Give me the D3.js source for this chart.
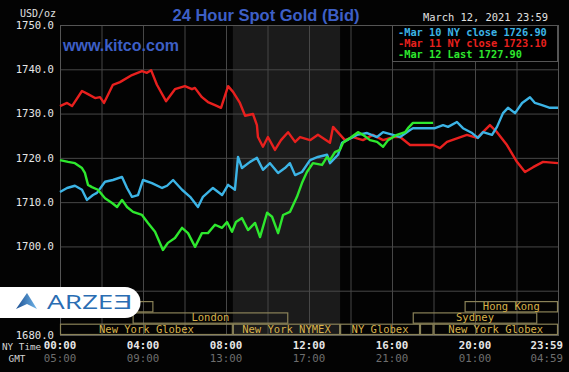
<!DOCTYPE html>
<html lang="en">
<head>
<meta charset="UTF-8">
<title>24 Hour Spot Gold (Bid)</title>
<script src="https://d3js.org/d3.v7.min.js"></script>
<style>
    body {
        margin: 0;
        background-color: #000;
    }
    svg {
        display: block;
    }
    .mono {
        font-family: 'DejaVu Sans Mono', monospace;
    }
    .grid line {
        stroke: #474747;
        stroke-width: 1;
    }
    .grid path {
        display: none;
    }
</style>
</head>
<body>
<svg id="chart" width="569" height="372"></svg>
<script>
    // hours since 00:00 NY time, prices in USD/oz
    var mar10Hours = [0, 0.34, 0.72, 1.06, 1.3, 1.59, 1.78, 2.17, 2.55, 2.99, 3.23, 3.47, 3.76, 4, 4.43, 4.92, 5.16, 5.45, 5.88, 6.27, 6.65, 6.89, 7.37, 7.81, 8.1, 8.43, 8.58, 8.77, 9.16, 9.49, 9.78, 10.12, 10.51, 10.84, 11.08, 11.33, 11.66, 12.05, 12.43, 12.87, 13.01, 13.4, 13.59, 13.83, 14.31, 14.8, 15.28, 15.57, 16.05, 16.39, 16.87, 17.01, 18.07, 18.46, 18.7, 19.13, 19.42, 19.86, 20.14, 20.39, 20.82, 21.06, 21.35, 21.59, 21.93, 22.27, 22.65, 22.89, 23.23, 23.61, 24];
    var mar10Prices = [1712.3, 1713.2, 1713.7, 1712.8, 1710.5, 1711.6, 1712.1, 1714.6, 1715.0, 1715.7, 1713.2, 1711.2, 1711.6, 1715.0, 1714.3, 1713.2, 1713.7, 1715.0, 1712.8, 1711.2, 1708.9, 1711.2, 1713.2, 1711.6, 1713.9, 1712.8, 1720.2, 1717.7, 1719.1, 1720.0, 1717.3, 1718.8, 1716.6, 1717.7, 1718.8, 1716.1, 1716.8, 1719.5, 1720.2, 1720.7, 1718.8, 1720.7, 1723.4, 1724.0, 1725.2, 1725.6, 1724.7, 1725.8, 1725.2, 1724.7, 1726.3, 1726.7, 1726.7, 1727.4, 1727.0, 1728.1, 1726.7, 1725.6, 1724.5, 1725.8, 1725.2, 1727.0, 1730.1, 1731.3, 1730.1, 1732.4, 1733.7, 1732.4, 1731.9, 1731.3, 1731.3];

    var mar11Hours = [0, 0.34, 0.58, 1.06, 1.35, 1.69, 1.93, 2.12, 2.55, 2.89, 3.47, 3.95, 4.19, 4.39, 4.67, 5.11, 5.54, 6.02, 6.36, 6.5, 6.84, 7.13, 7.47, 7.76, 8.1, 8.34, 8.67, 8.92, 9.3, 9.49, 9.54, 9.78, 10.02, 10.36, 10.65, 10.99, 11.33, 11.57, 12.05, 12.43, 13.01, 13.16, 13.73, 14.12, 14.6, 15.08, 15.57, 16.05, 16.39, 16.87, 17.98, 18.31, 18.65, 19.61, 20.1, 20.72, 21.06, 21.54, 22.02, 22.41, 22.8, 23.28, 24];
    var mar11Prices = [1731.7, 1732.4, 1731.7, 1735.1, 1734.4, 1733.5, 1733.7, 1732.4, 1736.5, 1737.1, 1738.7, 1739.6, 1739.2, 1739.8, 1736.5, 1732.8, 1735.5, 1736.2, 1735.5, 1735.8, 1733.7, 1732.6, 1731.9, 1731.3, 1736.2, 1734.9, 1732.4, 1729.5, 1729.9, 1727.4, 1724.7, 1722.5, 1724.7, 1721.8, 1724.0, 1725.8, 1723.6, 1724.7, 1724.0, 1725.2, 1723.4, 1727.0, 1724.0, 1724.7, 1724.0, 1725.2, 1724.0, 1724.7, 1724.7, 1722.9, 1722.9, 1722.2, 1723.6, 1725.2, 1724.5, 1727.4, 1725.8, 1722.9, 1719.1, 1716.8, 1717.9, 1719.1, 1718.8];

    var mar12Hours = [0, 0.39, 0.72, 1.06, 1.2, 1.35, 1.54, 1.83, 2.17, 2.51, 2.75, 2.99, 3.23, 3.52, 3.95, 4.24, 4.58, 4.96, 5.2, 5.54, 5.88, 6.17, 6.51, 6.84, 7.13, 7.47, 7.81, 8.05, 8.29, 8.48, 8.77, 9.06, 9.4, 9.64, 9.98, 10.22, 10.51, 10.75, 11.08, 11.42, 11.66, 11.9, 12.19, 12.63, 12.87, 13.01, 13.25, 13.49, 13.64, 13.98, 14.36, 14.6, 14.94, 15.28, 15.57, 15.81, 16.24, 16.63, 16.77, 17.01, 17.98];
    var mar12Prices = [1719.5, 1719.1, 1718.8, 1717.7, 1716.6, 1713.9, 1713.4, 1712.8, 1710.9, 1709.8, 1708.9, 1710.5, 1708.9, 1707.8, 1707.1, 1705.3, 1703.3, 1699.2, 1700.8, 1701.9, 1704.2, 1703.0, 1699.9, 1703.0, 1703.0, 1704.9, 1704.2, 1705.5, 1703.3, 1705.5, 1706.4, 1703.7, 1705.3, 1702.1, 1707.6, 1706.7, 1703.0, 1707.1, 1707.8, 1711.2, 1714.3, 1716.8, 1718.8, 1718.4, 1720.2, 1719.5, 1721.3, 1721.8, 1723.4, 1724.5, 1725.8, 1725.2, 1724.0, 1723.6, 1722.5, 1724.0, 1725.2, 1725.8, 1726.7, 1727.9, 1727.9];

    var legendLabels = ["Mar 10 NY close 1726.90", "Mar 11 NY close 1723.10", "Mar 12 Last 1727.90"];
    var legendColors = ["#3cb4e6", "#e8201e", "#2ee82e"];

    var priceTicks = [1680, 1690, 1700, 1710, 1720, 1730, 1740, 1750];
    // 1690.0 sits under the watermark in the picture
    var priceLabels = [1680, 1700, 1710, 1720, 1730, 1740, 1750];
    var gridHours = [2, 4, 6, 8, 10, 12, 14, 16, 18, 20, 22];
    var labelHours = [0, 4, 8, 12, 16, 20, 24];
    var nyTimeLabels = ["00:00", "04:00", "08:00", "12:00", "16:00", "20:00", "23:59"];
    var gmtLabels = ["05:00", "09:00", "13:00", "17:00", "21:00", "01:00", "04:59"];

    // trading sessions: name, start hour, end hour, row (0 = top)
    var sessionNames = ["", "London", "New York Globex", "New York NYMEX", "NY Globex", "", "New York Globex", "Sydney", "Hong Kong"];
    var sessionStart = [0, 3.5, 0, 8.33, 13.5, 17.35, 18, 17, 19.5];
    var sessionEnd = [4.5, 11, 8.33, 13.5, 17.35, 18, 24, 23, 24];
    var sessionRow = [0, 1, 2, 2, 2, 2, 2, 1, 0];
    var nymexOpen = 8.33, nymexClose = 13.5;

    var svg = d3.select("#chart");
    var W = 569, H = 372;
    var pLeft = 60, pRight = 558, pTop = 25, pBottom = 335;

    var x = d3.scaleLinear().domain([0, 24]).range([pLeft, pRight]);
    var y = d3.scaleLinear().domain([1680, 1750]).range([pBottom, pTop]);

    svg.append("rect").attr("width", W).attr("height", H).attr("fill", "#030303");

    // NYMEX open hours shading
    svg.append("rect")
        .attr("x", x(nymexOpen)).attr("y", pTop)
        .attr("width", x(nymexClose) - x(nymexOpen)).attr("height", pBottom - pTop)
        .attr("fill", "#1b1b1b");

    // grid
    svg.append("g")
        .attr("class", "grid")
        .attr("transform", "translate(" + pLeft + ",0)")
        .call(d3.axisLeft(y).tickValues(priceTicks).tickSize(-(pRight - pLeft)).tickFormat(""));

    svg.append("g")
        .attr("class", "grid")
        .attr("transform", "translate(0," + pBottom + ")")
        .call(d3.axisBottom(x).tickValues(gridHours).tickSize(-(pBottom - pTop)).tickFormat(""));

    svg.append("rect")
        .attr("x", pLeft + 0.5).attr("y", pTop + 0.5)
        .attr("width", pRight - pLeft).attr("height", pBottom - pTop)
        .attr("fill", "none").attr("stroke", "#555");

    // session boxes
    var rowH = 11.3;
    var sessions = sessionNames.map(function (n, i) {
        return { name: n, start: sessionStart[i], end: sessionEnd[i], row: sessionRow[i] };
    });
    var sg = svg.append("g");
    sg.selectAll("rect")
        .data(sessions)
        .enter().append("rect")
        .attr("x", d => x(d.start) + 0.5)
        .attr("y", d => pBottom - (3 - d.row) * rowH + 0.5)
        .attr("width", d => x(d.end) - x(d.start) - 1)
        .attr("height", rowH - 1)
        .attr("fill", "none")
        .attr("stroke", "#8a8258")
        .attr("stroke-width", 1.2);
    sg.selectAll("text")
        .data(sessions.filter(d => d.name))
        .enter().append("text")
        .attr("class", "mono")
        .attr("x", d => (x(d.start) + x(d.end)) / 2)
        .attr("y", d => pBottom - (3 - d.row) * rowH + 9)
        .attr("text-anchor", "middle")
        .attr("font-size", "10.5px")
        .attr("fill", "#d8b24a")
        .text(d => d.name);

    // price lines
    var line = d3.line()
        .x(d => x(d[0]))
        .y(d => y(d[1]));

    var series = [
        { hours: mar11Hours, prices: mar11Prices, color: legendColors[1] },
        { hours: mar10Hours, prices: mar10Prices, color: legendColors[0] },
        { hours: mar12Hours, prices: mar12Prices, color: legendColors[2] }
    ];

    svg.selectAll("path.price")
        .data(series)
        .enter().append("path")
        .attr("class", "price")
        .attr("d", d => line(d.hours.map((h, i) => [h, d.prices[i]])))
        .attr("fill", "none")
        .attr("stroke", d => d.color)
        .attr("stroke-width", 2.4)
        .attr("stroke-linejoin", "round");

    // y labels
    var yAxis = svg.append("g")
        .attr("transform", "translate(" + (pLeft - 3) + ",0)")
        .call(d3.axisLeft(y).tickValues(priceLabels).tickSize(0).tickFormat(d3.format(".1f")));
    yAxis.select(".domain").remove();
    yAxis.selectAll("text")
        .attr("class", "mono")
        .attr("font-size", "10.6px")
        .attr("fill", "#e6e6e6");

    // time labels (last one is pulled in from the right edge)
    function timeX(d) { return d === 24 ? x(d) + 5 : x(d); }
    function timeAnchor(d) { return d === 24 ? "end" : "middle"; }

    svg.selectAll("text.ny")
        .data(labelHours)
        .enter().append("text")
        .attr("class", "mono ny")
        .attr("x", timeX)
        .attr("y", 349)
        .attr("text-anchor", timeAnchor)
        .attr("font-size", "10.8px")
        .attr("font-weight", "bold")
        .attr("fill", "#e6e6e6")
        .text((d, i) => nyTimeLabels[i]);

    svg.selectAll("text.gmt")
        .data(labelHours)
        .enter().append("text")
        .attr("class", "mono gmt")
        .attr("x", timeX)
        .attr("y", 362)
        .attr("text-anchor", timeAnchor)
        .attr("font-size", "10.8px")
        .attr("fill", "#6e6e6e")
        .text((d, i) => gmtLabels[i]);

    svg.append("text").attr("class", "mono")
        .attr("x", 2).attr("y", 350)
        .attr("font-size", "9.3px").attr("fill", "#d6d6d6")
        .text("NY Time");
    svg.append("text").attr("class", "mono")
        .attr("x", 17).attr("y", 362).attr("text-anchor", "middle")
        .attr("font-size", "9.3px").attr("fill", "#d6d6d6")
        .text("GMT");

    // header texts
    svg.append("text").attr("class", "mono")
        .attr("x", 20).attr("y", 17)
        .attr("font-size", "10px").attr("fill", "#e0e0e0")
        .text("USD/oz");

    svg.append("text")
        .attr("x", 266).attr("y", 21)
        .attr("text-anchor", "middle")
        .attr("font-family", "'Liberation Sans', Arial, sans-serif")
        .attr("font-weight", "bold")
        .attr("font-size", "16.5px")
        .attr("fill", "#3d5fc6")
        .text("24 Hour Spot Gold (Bid)");

    svg.append("text")
        .attr("x", 63).attr("y", 51)
        .attr("font-family", "'Liberation Sans', Arial, sans-serif")
        .attr("font-weight", "bold")
        .attr("font-size", "16px")
        .attr("fill", "#3d5fc6")
        .text("www.kitco.com");

    svg.append("text").attr("class", "mono")
        .attr("x", 548).attr("y", 21)
        .attr("text-anchor", "end")
        .attr("font-size", "10.4px").attr("fill", "#e0e0e0")
        .text("March 12, 2021 23:59");

    // legend
    var lg = svg.append("g");
    lg.append("rect")
        .attr("x", 392.5).attr("y", 25.5)
        .attr("width", 165).attr("height", 36)
        .attr("fill", "#000").attr("stroke", "#555");
    lg.selectAll("text")
        .data(legendLabels)
        .enter().append("text")
        .attr("class", "mono")
        .attr("x", 398)
        .attr("y", (d, i) => 35.5 + i * 11)
        .attr("font-size", "10.3px")
        .attr("font-weight", "bold")
        .attr("fill", (d, i) => legendColors[i])
        .text(d => "-" + d);

    // watermark logo
    var logo = svg.append("g");
    var defs = svg.append("defs");
    var grad = defs.append("linearGradient").attr("id", "logoGrad");
    grad.append("stop").attr("offset", "0%").attr("stop-color", "#1c4f92");
    grad.append("stop").attr("offset", "100%").attr("stop-color", "#6fb4e8");
    logo.append("path")
        .attr("d", "M0,287 H125 A15.5,15.5 0 0 1 125,318 H0 Z")
        .attr("fill", "#fff");
    logo.append("path")
        .attr("d", "M16,309 L27,293 L37,309 L27,304 Z")
        .attr("fill", "url(#logoGrad)");
    logo.append("text")
        .attr("x", 47).attr("y", 309)
        .attr("font-family", "'Open Sans', sans-serif")
        .attr("font-size", "20px")
        .attr("textLength", 85)
        .attr("lengthAdjust", "spacingAndGlyphs")
        .attr("fill", "#2a6db3")
        .text("ARZEƎ");
</script>
</body>
</html>
